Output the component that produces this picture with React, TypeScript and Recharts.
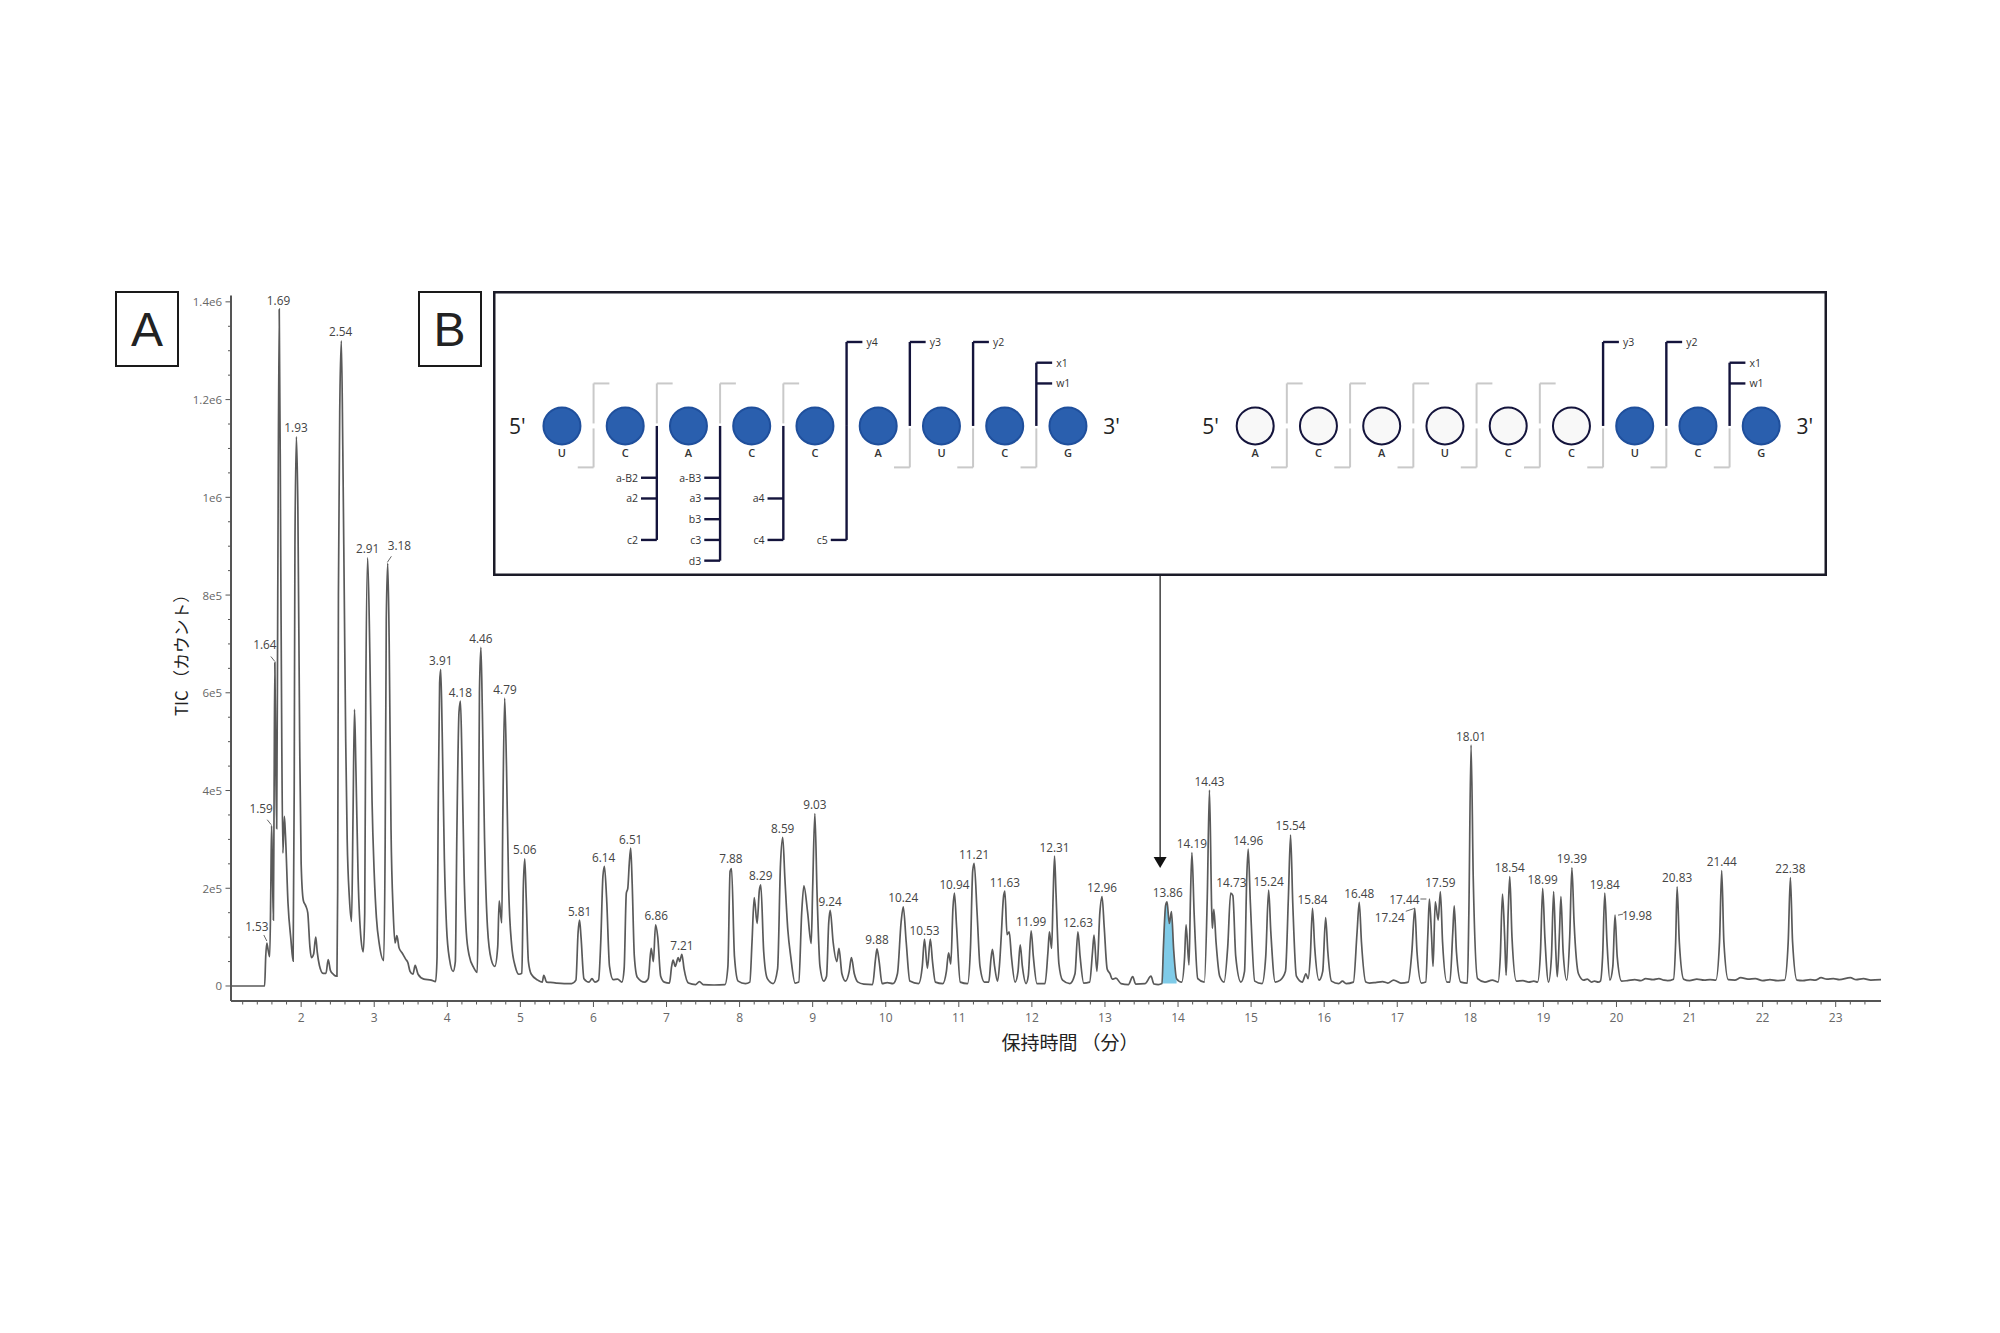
import React from 'react';
import { ComposedChart, Line, Area, Scatter, XAxis, YAxis, ReferenceLine, ReferenceDot, Label } from 'recharts';

// ---- Chromatogram: [retention time (min), TIC (thousand counts)]
const traceA: number[][] = [[1.05,0],[1.5,0],[1.515,60],[1.53,88],[1.55,72],[1.57,60],[1.585,200],[1.595,328],[1.605,260],[1.62,135],[1.63,400],[1.64,662],[1.65,500],[1.665,322],[1.68,800],[1.7,1385],[1.72,900],[1.735,500],[1.75,272],[1.77,347],[1.785,310],[1.82,170],[1.86,95],[1.89,51],[1.905,400],[1.915,900],[1.935,1124],[1.955,980],[1.98,500],[2.0,250],[2.03,175],[2.06,165],[2.09,150],[2.12,80],[2.14,58],[2.17,65],[2.2,100],[2.22,70],[2.25,42],[2.3,26],[2.34,26],[2.37,54],[2.4,32],[2.44,24],[2.49,20],[2.5,200],[2.51,800],[2.53,1200],[2.55,1320],[2.57,1100],[2.59,800],[2.61,500],[2.63,300],[2.66,180],[2.69,132],[2.71,350],[2.73,566],[2.75,440],[2.78,220],[2.82,95],[2.85,70],[2.87,150],[2.885,600],[2.91,876],[2.94,680],[2.97,380],[3.0,230]];
const traceB: number[][] = [[3.03,140],[3.07,85],[3.13,52],[3.15,300],[3.165,750],[3.185,865],[3.205,700],[3.23,320],[3.26,150],[3.285,88],[3.31,103],[3.34,78],[3.38,68],[3.43,55],[3.46,48],[3.49,30],[3.53,24],[3.56,42],[3.6,24],[3.68,14],[3.78,12],[3.84,9],[3.86,60],[3.875,350],[3.895,620],[3.91,648],[3.93,520],[3.96,260],[3.99,120],[4.03,55],[4.08,30],[4.11,50],[4.13,300],[4.16,560],[4.18,583],[4.2,470],[4.23,230],[4.26,110],[4.3,62],[4.36,38],[4.41,28],[4.42,120],[4.44,600],[4.46,693],[4.48,560],[4.51,300],[4.55,120],[4.6,55],[4.65,40],[4.69,80],[4.71,174],[4.745,129],[4.76,350],[4.785,589],[4.81,450],[4.84,200],[4.88,85],[4.93,40],[4.98,24],[5.02,26],[5.04,200],[5.06,260],[5.08,180],[5.11,50],[5.15,24],[5.24,12],[5.3,8],[5.32,22],[5.36,8],[5.45,7],[5.5,6],[5.6,5],[5.7,5],[5.76,12],[5.79,110],[5.81,135],[5.83,100],[5.87,15],[5.94,8],[5.98,15],[6.02,8]];
const traceC: number[][] = [[6.07,12],[6.1,90],[6.13,225],[6.15,245],[6.18,180],[6.22,40],[6.27,13],[6.33,14],[6.39,8],[6.42,35],[6.45,190],[6.47,200],[6.49,250],[6.51,282],[6.53,210],[6.56,60],[6.6,18],[6.7,8],[6.75,15],[6.79,77],[6.82,50],[6.85,125],[6.88,100],[6.92,20],[6.97,8],[7.04,6],[7.07,40],[7.09,53],[7.12,40],[7.16,58],[7.18,50],[7.21,65],[7.24,35],[7.3,6],[7.4,3],[7.45,9],[7.5,3],[7.65,2],[7.8,3],[7.84,40],[7.87,235],[7.89,240],[7.93,60],[7.98,10],[8.08,5],[8.14,8],[8.17,90],[8.2,181],[8.24,128],[8.27,195],[8.29,207],[8.33,70],[8.38,15],[8.46,5],[8.52,35],[8.56,250],[8.59,304],[8.62,220],[8.66,115],[8.7,60],[8.76,6],[8.81,8],[8.85,150],[8.88,205],[8.93,152],[8.98,87],[9.0,200],[9.03,353],[9.06,190],[9.1,40],[9.15,10],[9.19,20]];
const traceD: number[][] = [[9.22,130],[9.24,155],[9.28,90],[9.33,50],[9.36,77],[9.4,25],[9.45,10],[9.5,30],[9.53,58],[9.57,25],[9.62,8],[9.7,4],[9.82,3],[9.86,55],[9.88,76],[9.91,50],[9.95,5],[10.02,7],[10.1,5],[10.16,25],[10.21,130],[10.24,162],[10.28,90],[10.33,10],[10.45,5],[10.5,40],[10.53,96],[10.57,36],[10.61,96],[10.64,50],[10.68,8],[10.78,5],[10.83,30],[10.86,68],[10.89,45],[10.92,160],[10.94,190],[10.97,120],[11.02,8],[11.12,5],[11.16,80],[11.19,235],[11.21,251],[11.25,150],[11.29,40],[11.35,8],[11.41,8],[11.44,55],[11.46,75],[11.49,40],[11.53,10],[11.56,50],[11.58,100],[11.61,180],[11.63,194],[11.66,105],[11.69,111],[11.72,60],[11.77,8],[11.81,30],[11.84,84],[11.87,40],[11.92,5],[11.95,20],[11.99,113],[12.02,60],[12.07,5],[12.18,5],[12.22,70],[12.24,111],[12.27,77],[12.29,180],[12.31,266],[12.33,190],[12.37,45],[12.42,12],[12.52,5],[12.59,25],[12.63,111],[12.66,60],[12.71,6],[12.79,8],[12.83,70],[12.85,104],[12.89,30],[12.93,150],[12.96,183],[12.99,120],[13.03,35],[13.07,25],[13.1,14],[13.15,16],[13.22,5],[13.32,3],[13.38,19],[13.42,4],[13.55,5],[13.63,20],[13.67,4],[13.73,3]];
const traceE: number[][] = [[13.78,5],[13.8,80],[13.83,165],[13.85,172],[13.88,128],[13.91,152],[13.94,75],[13.98,15],[14.05,8],[14.09,60],[14.11,125],[14.15,43],[14.17,180],[14.19,273],[14.22,150],[14.27,15],[14.36,8],[14.4,180],[14.43,401],[14.46,160],[14.47,118],[14.49,157],[14.52,90],[14.57,20],[14.63,8],[14.68,80],[14.72,190],[14.75,185],[14.79,60],[14.86,8],[14.91,30],[14.94,220],[14.96,280],[14.99,170],[15.05,10],[15.15,5],[15.2,60],[15.24,196],[15.27,110],[15.33,8],[15.4,12],[15.47,30],[15.51,180],[15.54,309],[15.57,170],[15.62,20],[15.7,8],[15.75,25],[15.78,15],[15.81,60],[15.84,159],[15.87,80],[15.93,12],[15.98,30],[16.02,140],[16.05,70],[16.1,10],[16.2,5],[16.25,10],[16.3,5],[16.4,8],[16.45,110],[16.48,171],[16.51,90],[16.57,8],[16.62,6],[16.7,7],[16.8,9],[16.87,6],[16.95,12],[17.05,6],[17.15,8],[17.2,70],[17.24,159],[17.27,70],[17.33,6],[17.39,8],[17.42,110],[17.44,178],[17.47,100],[17.49,40],[17.52,172],[17.56,135],[17.59,193],[17.62,90],[17.68,8],[17.72,8],[17.76,110],[17.78,164],[17.81,70],[17.87,8],[17.96,6],[17.98,150],[18.01,493],[18.04,220],[18.1,15],[18.2,8],[18.3,12],[18.38,8]];
const traceF: number[][] = [[18.41,60],[18.44,188],[18.47,100],[18.49,22],[18.52,160],[18.54,224],[18.57,100],[18.63,10],[18.72,11],[18.8,8],[18.87,10],[18.92,8],[18.96,70],[18.99,200],[19.02,100],[19.07,8],[19.11,60],[19.14,193],[19.17,70],[19.19,19],[19.22,110],[19.24,183],[19.27,70],[19.32,12],[19.36,100],[19.39,242],[19.42,130],[19.48,25],[19.55,12],[19.6,14],[19.66,8],[19.7,10],[19.75,8],[19.78,10],[19.81,60],[19.84,190],[19.87,90],[19.91,12],[19.95,40],[19.98,145],[20.01,60],[20.07,10],[20.15,11],[20.25,13],[20.33,11],[20.4,15],[20.5,13],[20.58,15],[20.65,12],[20.7,11],[20.78,14],[20.81,90],[20.83,203],[20.86,90],[20.92,14],[21.0,11],[21.1,14],[21.2,12],[21.28,13],[21.36,12],[21.41,90],[21.44,236],[21.47,90],[21.53,13],[21.62,12],[21.7,17],[21.8,14],[21.9,15],[22.0,11],[22.1,13],[22.2,11],[22.3,12],[22.35,90],[22.38,222],[22.41,90],[22.47,12],[22.55,11],[22.65,13],[22.72,12],[22.8,17],[22.88,14],[22.97,15],[23.05,13],[23.2,17],[23.28,13],[23.38,15],[23.48,12],[23.62,13]];

// highlighted (blue) peak window, minutes
const highlightWindow = [13.78, 13.98];

// labelled peaks
const peakTimes = [1.53,1.59,1.64,1.69,1.93,2.54,2.91,3.18,3.91,4.18,4.46,4.79,5.06,5.81,6.14,6.51,6.86,7.21,7.88,8.29,8.59,9.03,9.24,9.88,10.24,10.53,10.94,11.21,11.63,11.99,12.31,12.63,12.96,13.86,14.19,14.43,14.73,14.96,15.24,15.54,15.84,16.48,17.24,17.44,17.59,18.01,18.54,18.99,19.39,19.84,19.98,20.83,21.44,22.38];
const peakHeights = [88,328,662,1385,1124,1320,876,865,648,583,693,589,260,135,245,282,125,65,243,207,304,353,155,76,162,96,190,251,194,113,266,111,183,172,273,401,193,280,196,309,159,171,159,178,193,493,224,200,242,190,145,203,236,222];

// axis ticks
const yMajorLabels: Record<number, string> = { 0: '0', 200000: '2e5', 400000: '4e5', 600000: '6e5', 800000: '8e5', 1000000: '1e6', 1200000: '1.2e6', 1400000: '1.4e6' };
const yTicks = Array.from({ length: 29 }, (_, i) => i * 50000);
const xTicks = Array.from({ length: 112 }, (_, i) => Math.round((1.2 + i * 0.2) * 10) / 10);

// ---- Sequence schematic
const strandOne = ['U', 'C', 'A', 'C', 'C', 'A', 'U', 'C', 'G'];
const strandTwo = ['A', 'C', 'A', 'U', 'C', 'C', 'U', 'C', 'G'];
const strandOneUnlabelled: number[] = [];
const strandTwoUnlabelled = [1, 2, 3, 4, 5, 6];
const strandOneUpperIons: Record<number, string[]> = { 5.5: ['y4'], 6.5: ['y3'], 7.5: ['y2'], 8.5: ['x1', 'w1'] };
const strandOneLowerIons: Record<number, string[]> = { 2.5: ['a-B2', 'a2', 'c2'], 3.5: ['a-B3', 'a3', 'b3', 'c3', 'd3'], 4.5: ['a4', 'c4'], 5.5: ['c5'] };
const strandTwoUpperIons: Record<number, string[]> = { 6.5: ['y3'], 7.5: ['y2'], 8.5: ['x1', 'w1'] };
const strandTwoLowerIons: Record<number, string[]> = {};
const cutSites = [1.5, 2.5, 3.5, 4.5, 5.5, 6.5, 7.5, 8.5];

// ---- layout / style constants (not data)
const STRAND2_SHIFT = 10.96;
const ionRow = (n: string) => {
  if (n.startsWith('y')) return 4.05;
  if (n.startsWith('x')) return 3.05;
  if (n.startsWith('w')) return 2.05;
  if (n.startsWith('a-B')) return -2.5;
  if (n.startsWith('a')) return -3.5;
  if (n.startsWith('b')) return -4.5;
  if (n.startsWith('c')) return -5.5;
  return -6.5;
};
const labelOffsets: Record<string, { dx: number; dy: number; lead?: number[] }> = {
  '1.53': { dx: -10, dy: -17, lead: [-3, -8, 0, -2] },
  '1.59': { dx: -10, dy: -18, lead: [-4, -6, 0, -1] },
  '1.64': { dx: -10, dy: -18, lead: [-4, -6, 0, -1] },
  '3.18': { dx: 12, dy: -18, lead: [4, -7, 0, -1] },
  '17.24': { dx: -25, dy: 9, lead: [-9, 3, 0, 0] },
  '17.44': { dx: -25, dy: 0, lead: [-9, 0, -3, 0] },
  '19.98': { dx: 22, dy: 0, lead: [3, 0, 8, -1] },
};
const FONT = '"Open Sans", "Noto Sans", sans-serif';
const CJK = '"Noto Sans CJK JP", "Noto Sans", sans-serif';
const INK = '#14143c';
const GREY = '#c9c9c9';
const BLUE = '#2a5fae';

const rows = [...traceA, ...traceB, ...traceC, ...traceD, ...traceE, ...traceF].map(([t, k]) => ({
  t,
  v: k * 1000,
  lit: t >= highlightWindow[0] && t <= highlightWindow[1] ? k * 1000 : null,
}));
const peaks = peakTimes.map((t, i) => ({ t, v: peakHeights[i] * 1000, text: t.toFixed(2) }));

const PeakLabel = (p: any) => {
  const text = p.text ?? p.payload?.text;
  const o = labelOffsets[text] ?? { dx: 0, dy: 0 };
  const dx = o.dx;
  const dy = o.lead ? o.dy : -9.5;
  return (
    <g>
      {o.lead && (
        <line x1={p.cx + o.lead[0]} y1={p.cy + o.lead[1]} x2={p.cx + o.lead[2]} y2={p.cy + o.lead[3]} stroke="#666" strokeWidth={1} />
      )}
      <text x={p.cx + dx} y={p.cy + dy} textAnchor="middle" dominantBaseline="central" fontFamily={FONT} fontSize={11.8} fill="#444">
        {text}
      </text>
    </g>
  );
};

const XTick = (p: any) => {
  const value = p.payload.value;
  const major = Number.isInteger(value);
  return (
    <g>
      <line x1={p.x} x2={p.x} y1={1001} y2={major ? 1007 : 1004.5} stroke="#555" strokeWidth={1} />
      {major && (
        <text x={p.x} y={1017} textAnchor="middle" dominantBaseline="central" fontFamily={FONT} fontSize={12} fill="#666">
          {value}
        </text>
      )}
    </g>
  );
};
const YTick = (p: any) => {
  const value = p.payload.value;
  const text = yMajorLabels[value];
  return (
    <g>
      <line x1={231} x2={text ? 225.5 : 228} y1={p.y} y2={p.y} stroke="#555" strokeWidth={1} />
      {text && (
        <text x={222} y={p.y} textAnchor="end" dominantBaseline="central" fontFamily={FONT} fontSize={11.5} fill="#666">
          {text}
        </text>
      )}
    </g>
  );
};

const Arrowhead = (p: any) => <path d={`M${p.cx - 6.5},${p.cy - 11} L${p.cx + 6.5},${p.cy - 11} L${p.cx},${p.cy} Z`} fill="#111" />;

const residue = (bases: string[], shift: number, open: number[]) =>
  bases.map((base, i) => ({ x: i + 1 + shift, y: 0, base, open: open.includes(i + 1) }));
const residues = [...residue(strandOne, 0, strandOneUnlabelled), ...residue(strandTwo, STRAND2_SHIFT, strandTwoUnlabelled)];
const ends = [
  { x: 0.295, y: 0, text: "5'" },
  { x: 9.69, y: 0, text: "3'" },
  { x: 0.295 + STRAND2_SHIFT, y: 0, text: "5'" },
  { x: 9.69 + STRAND2_SHIFT, y: 0, text: "3'" },
];

const Residue = (p: any) => {
  const d = p.payload ?? p;
  return (
    <g>
      <ellipse cx={p.cx} cy={p.cy} rx={18.5} ry={18.5} fill={d.open ? '#f8f8f8' : BLUE} stroke={d.open ? INK : '#1f4f9c'} strokeWidth={2} />
      <text x={p.cx} y={p.cy + 26.5} textAnchor="middle" dominantBaseline="central" fontFamily={FONT} fontSize={11} fontWeight={600} fill="#333">
        {d.base}
      </text>
    </g>
  );
};
const EndMark = (p: any) => {
  const d = p.payload ?? p;
  return (
    <text x={p.cx} y={p.cy} textAnchor="middle" dominantBaseline="central" fontFamily={FONT} fontSize={21} fill="#222">
      {d.text}
    </text>
  );
};
const IonLabel = (p: any) => {
  const d = p.payload ?? p;
  return (
    <text x={p.cx + (d.up ? 4 : -3)} y={p.cy} textAnchor={d.up ? 'start' : 'end'} dominantBaseline="central" fontFamily={FONT} fontSize={10.5} fill="#333">
      {d.name}
    </text>
  );
};

type Seg = { a: [number, number]; b: [number, number]; dark: boolean };
const buildStrand = (shift: number, upper: Record<number, string[]>, lower: Record<number, string[]>) => {
  const segs: Seg[] = [];
  const labels: any[] = [];
  cutSites.forEach((cut) => {
    const x = cut + shift;
    const up = upper[cut];
    const lo = lower[cut];
    if (up) {
      const rowsUp = up.map(ionRow);
      segs.push({ a: [x, 0], b: [x, Math.max(...rowsUp)], dark: true });
      up.forEach((name) => {
        segs.push({ a: [x, ionRow(name)], b: [x + 0.25, ionRow(name)], dark: true });
        labels.push({ x: x + 0.25, y: ionRow(name), name, up: true });
      });
    } else {
      segs.push({ a: [x, 0.12], b: [x, 2.05], dark: false });
      segs.push({ a: [x, 2.05], b: [x + 0.25, 2.05], dark: false });
    }
    if (lo) {
      const rowsLo = lo.map(ionRow);
      segs.push({ a: [x, 0], b: [x, Math.min(...rowsLo)], dark: true });
      lo.forEach((name) => {
        segs.push({ a: [x, ionRow(name)], b: [x - 0.25, ionRow(name)], dark: true });
        labels.push({ x: x - 0.25, y: ionRow(name), name, up: false });
      });
    } else {
      segs.push({ a: [x, -0.12], b: [x, -2], dark: false });
      segs.push({ a: [x, -2], b: [x - 0.25, -2], dark: false });
    }
  });
  return { segs, labels };
};
const s1 = buildStrand(0, strandOneUpperIons, strandOneLowerIons);
const s2 = buildStrand(STRAND2_SHIFT, strandTwoUpperIons, strandTwoLowerIons);
const segments = [...s1.segs, ...s2.segs];
const ionLabels = [...s1.labels, ...s2.labels];

const panelBox = (left: number, text: string) => (
  <div
    style={{
      position: 'absolute', left, top: 291, width: 60, height: 72, border: '2.5px solid #1a1a1a', background: '#fff',
      display: 'flex', alignItems: 'center', justifyContent: 'center',
      fontFamily: '"Liberation Sans", Arial, sans-serif', fontSize: 48, color: '#222',
    }}
  >
    {text}
  </div>
);

export default function App() {
  return (
    <div style={{ position: 'absolute', left: 0, top: 0, width: 2000, height: 1333, background: '#fff', overflow: 'hidden' }}>
      <ComposedChart width={2000} height={1333} data={rows} margin={{ top: 295.5, right: 119, bottom: 292, left: 171 }}>
        <XAxis
          dataKey="t" type="number" domain={[1.04, 23.62]} allowDataOverflow ticks={xTicks} interval={0}
          height={40} tick={<XTick />} tickLine={false} tickSize={0} axisLine={{ stroke: '#555', strokeWidth: 2 }}
        >
          <Label
            content={() => (
              <text x={1070} y={1041} textAnchor="middle" dominantBaseline="central" fontFamily={CJK} fontSize={19} fill="#222">
                {'保持時間\u2009（分）'}
              </text>
            )}
          />
        </XAxis>
        <YAxis
          dataKey="v" type="number" domain={[-30700, 1413000]} allowDataOverflow ticks={yTicks} interval={0}
          width={60} tick={<YTick />} tickLine={false} tickSize={0} axisLine={{ stroke: '#555', strokeWidth: 2 }}
        >
          <Label
            content={() => (
              <text transform="translate(181 651) rotate(-90)" textAnchor="middle" dominantBaseline="central" fontFamily={CJK} fontSize={16.8} fill="#222">
                TIC （カウント）
              </text>
            )}
          />
        </YAxis>
        <Area dataKey="lit" type="monotone" baseValue={5000} fill="#7fcbe8" fillOpacity={1} stroke="none" connectNulls={false} isAnimationActive={false} dot={false} activeDot={false} />
        <Line dataKey="v" type="monotone" stroke="#5a5a5a" strokeWidth={1.7} dot={false} activeDot={false} isAnimationActive={false} />
        <Scatter data={peaks} dataKey="v" shape={<PeakLabel />} isAnimationActive={false} />
        <ReferenceLine segment={[{ x: 13.755, y: 841000 }, { x: 13.755, y: 255000 }]} stroke="#222" strokeWidth={1.3} />
        <ReferenceDot x={13.755} y={241500} shape={<Arrowhead />} />
      </ComposedChart>

      {panelBox(115, 'A')}
      {panelBox(417.5, 'B')}

      <div style={{ position: 'absolute', left: 493, top: 290.5, width: 1334, height: 285, background: '#fff', boxShadow: 'inset 0 0 0 2.5px #1b1b28' }}>
        <ComposedChart width={1334} height={285} margin={{ top: 0, right: 0, bottom: 0, left: 0 }}>
          <XAxis dataKey="x" type="number" domain={[-0.09, 21.0]} allowDataOverflow hide />
          <YAxis dataKey="y" type="number" domain={[-7.24, 6.51]} allowDataOverflow hide />
          {segments.map((s, i) => (
            <ReferenceLine
              key={i}
              segment={[{ x: s.a[0], y: s.a[1] }, { x: s.b[0], y: s.b[1] }]}
              stroke={s.dark ? INK : GREY}
              strokeWidth={s.dark ? 2.4 : 2}
            />
          ))}
          <Scatter data={residues} dataKey="y" shape={<Residue />} isAnimationActive={false} />
          <Scatter data={ends} dataKey="y" shape={<EndMark />} isAnimationActive={false} />
          <Scatter data={ionLabels} dataKey="y" shape={<IonLabel />} isAnimationActive={false} />
        </ComposedChart>
      </div>
    </div>
  );
}
